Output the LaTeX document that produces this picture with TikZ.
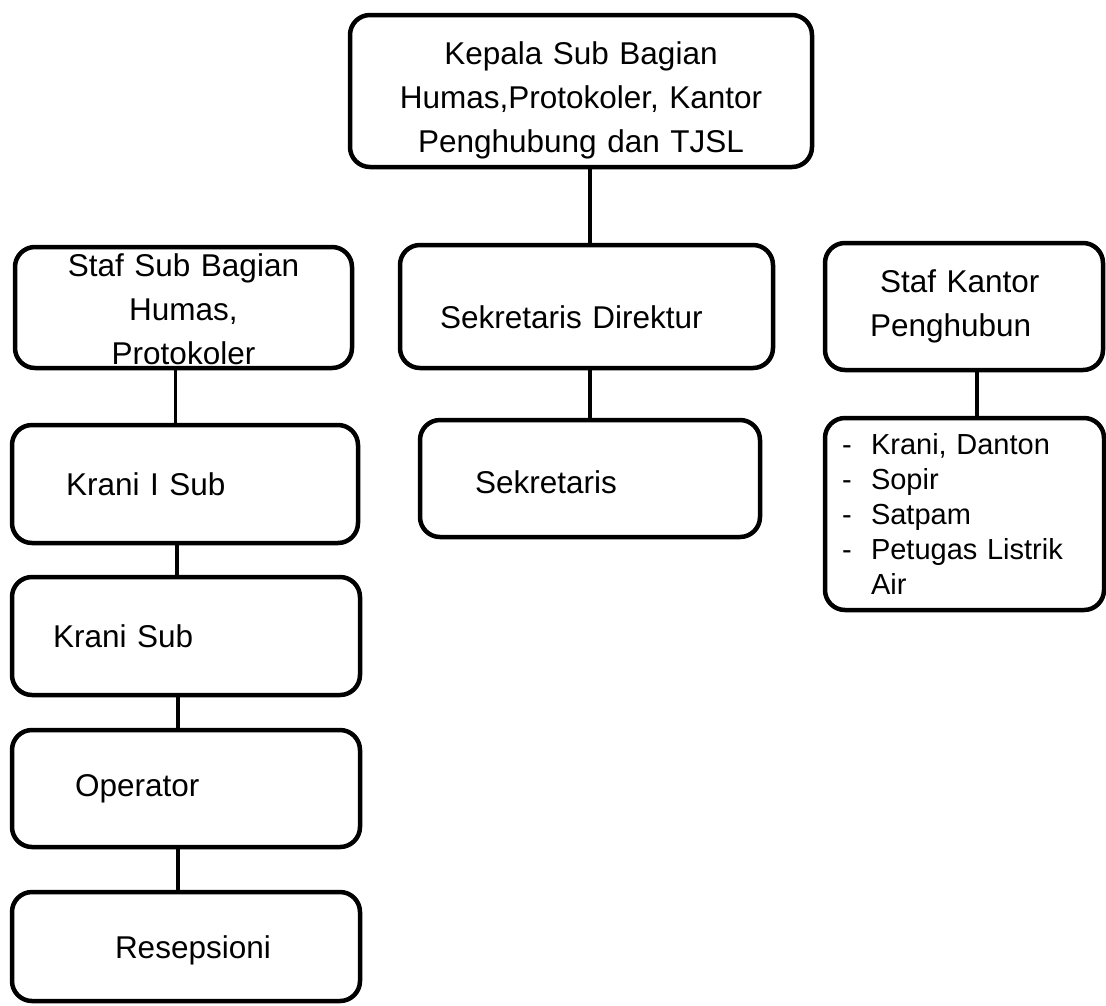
\documentclass[tikz,border=0pt]{standalone}
\usepackage{fontspec}
\setmainfont{Liberation Sans}
\begin{document}
\begin{tikzpicture}[x=1pt,y=-1pt,
    box/.style={draw, line width=4.5pt, rounded corners=20pt, inner xsep=8pt, inner ysep=0pt, align=left, font=\fontsize{31.5}{44}\selectfont},
    link/.style={line width=3.3pt}]

\useasboundingbox (0,0) rectangle (1106,1005);

\node[box, minimum width=462pt, minimum height=152pt, text width=446pt, align=center, text height=41pt] (kepala) at (581,91) {Kepala Sub Bagian\\Humas,Protokoler, Kantor\\Penghubung dan TJSL};

\node[box, minimum width=337pt, minimum height=121pt, text width=321pt, align=center, text height=26pt] (staf) at (183.5,307.5) {Staf Sub Bagian\\Humas,\\Protokoler};
\node[box, minimum width=346pt, minimum height=118pt, text width=330pt] (krani1) at (185,484) {\hspace*{46pt}Krani I Sub};
\node[box, minimum width=348pt, minimum height=118pt, text width=332pt] (kranisub) at (186,636) {\hspace*{33pt}Krani Sub};
\node[box, minimum width=348pt, minimum height=117pt, text width=332pt] (operator) at (186,788.5) {\hspace*{55pt}Operator};
\node[box, minimum width=348pt, minimum height=109pt, text width=332pt, text height=30pt] (resepsioni) at (186,946.5) {\hspace*{95pt}Resepsioni};

\node[box, minimum width=373pt, minimum height=123pt, text width=357pt, text height=45pt] (sekdir) at (586.5,306.5) {\hspace*{32pt}Sekretaris Direktur};
\node[box, minimum width=340pt, minimum height=117pt, text width=324pt, text height=30pt] (sekretaris) at (590,478.5) {\hspace*{47pt}Sekretaris};

\node[box, minimum width=278pt, minimum height=127pt, text width=262pt] (stafkantor) at (964,306.5) {\hspace*{47pt}Staf Kantor\\\hspace*{37pt}Penghubun};
\node[box, minimum width=279pt, minimum height=192pt, text width=263pt, font=\fontsize{29}{35}\selectfont] (tugas) at (964.5,514) {%
        \hspace*{9pt}\makebox[29pt][l]{-}Krani, Danton\\
        \hspace*{9pt}\makebox[29pt][l]{-}Sopir\\
        \hspace*{9pt}\makebox[29pt][l]{-}Satpam\\
        \hspace*{9pt}\makebox[29pt][l]{-}Petugas Listrik\\
        \hspace*{38pt}Air};

\draw[link] ([xshift=3.5pt]sekdir.north) -- ([xshift=3.5pt]sekdir.north |- kepala.south);
\draw[link] (sekretaris.north) -- (sekretaris.north |- sekdir.south);
\draw[link] ([xshift=13pt]stafkantor.south) -- ([xshift=13pt]stafkantor.south |- tugas.north);

\foreach \a/\b in {staf/krani1,krani1/kranisub,kranisub/operator,operator/resepsioni} {
        \draw[link] ([xshift=-8pt]\a.south) -- ([xshift=-8pt]\a.south |- \b.north);
 }
\end{tikzpicture}
\end{document}
